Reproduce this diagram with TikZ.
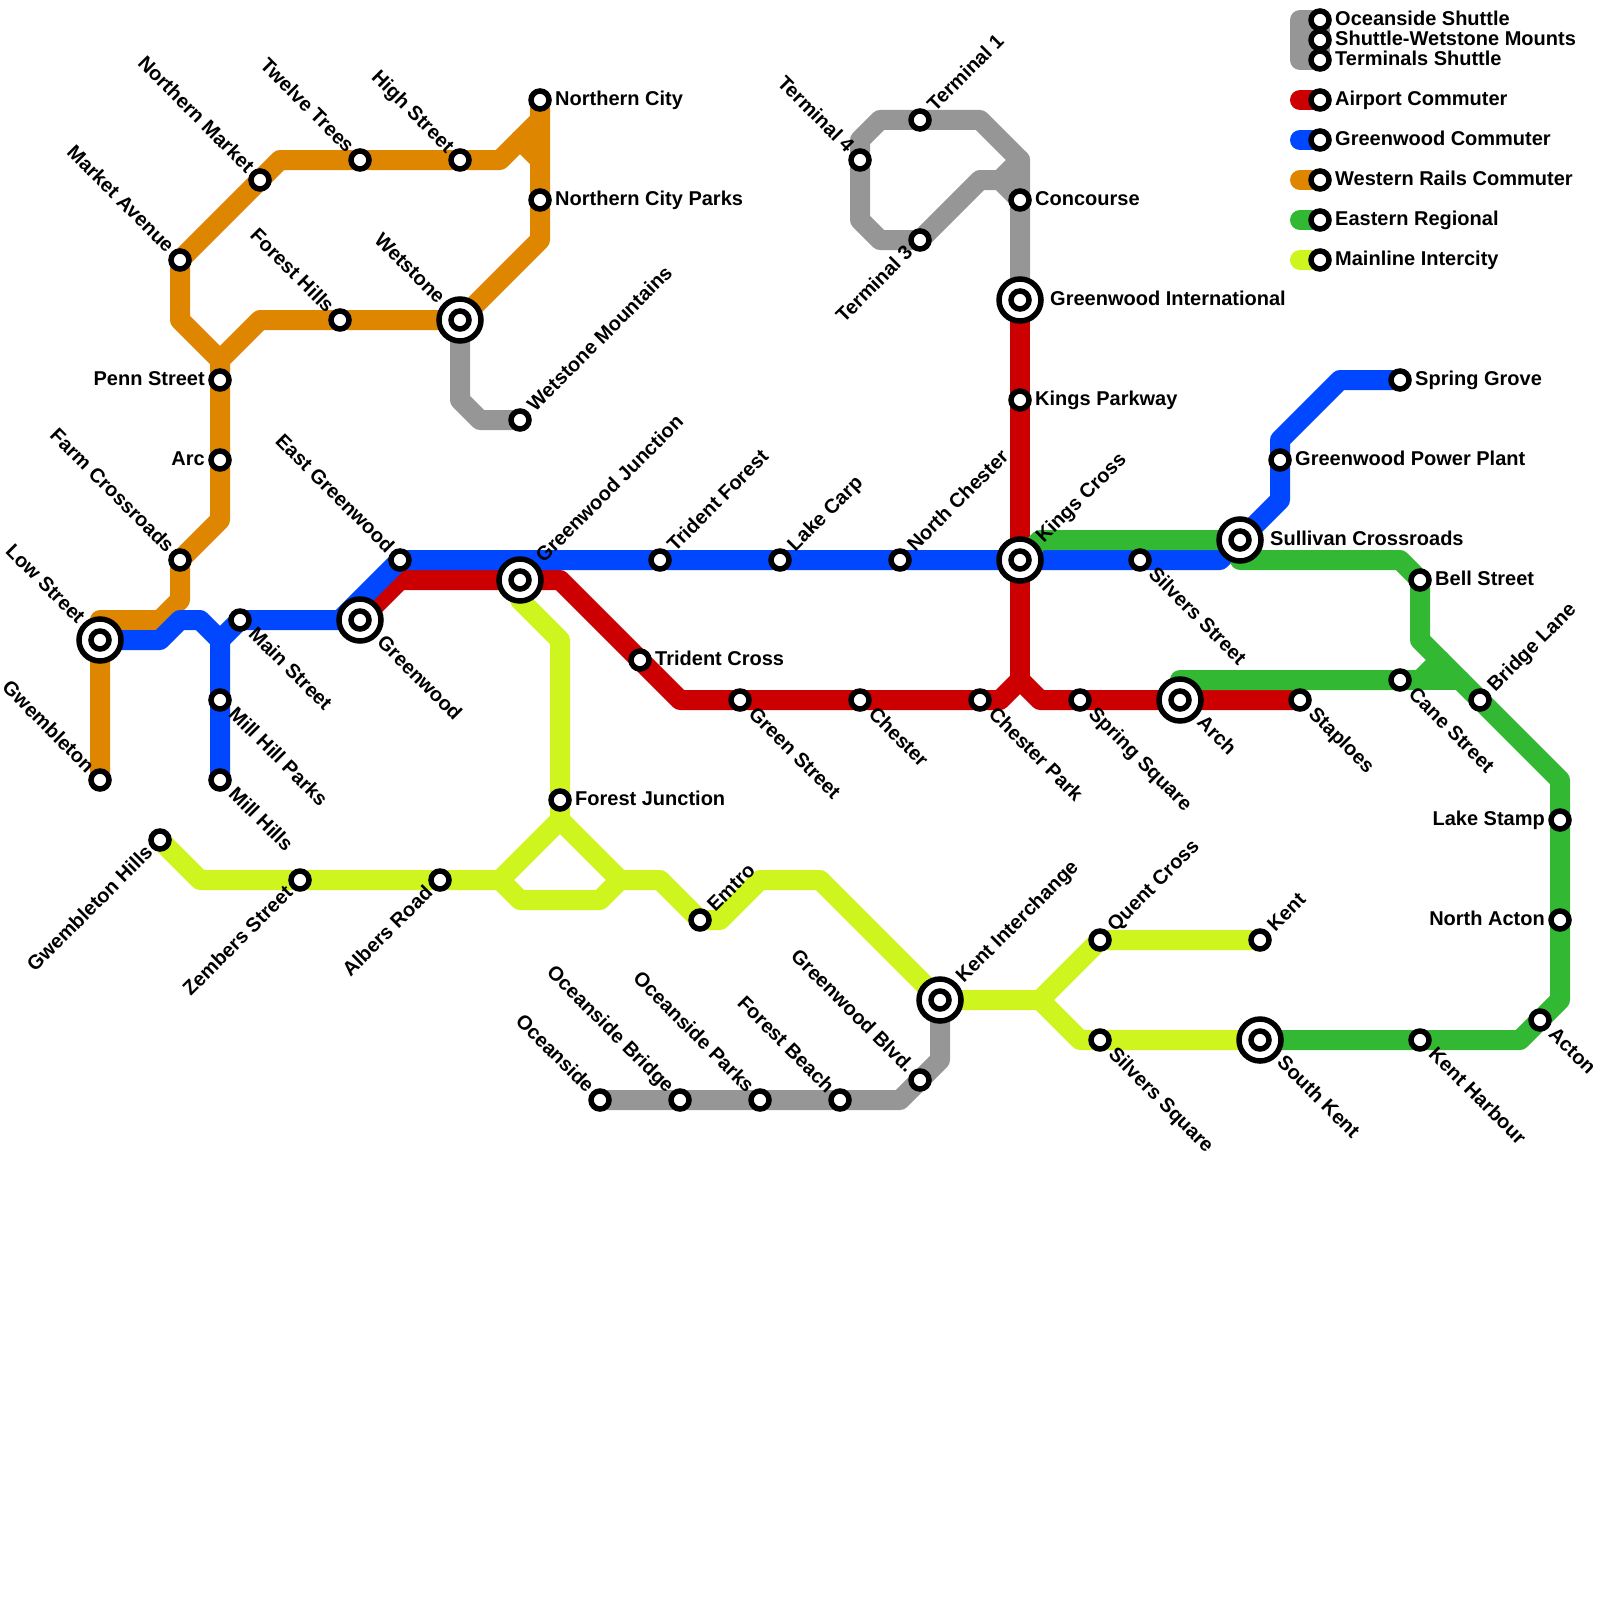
\documentclass[tikz,border=0pt]{standalone}
\usepackage{fontspec}
\setmainfont{Liberation Sans}
\usetikzlibrary{backgrounds}
\definecolor{railgrey}{RGB}{150,150,150}
\definecolor{railred}{RGB}{204,0,0}
\definecolor{railblue}{RGB}{0,71,255}
\definecolor{railorange}{RGB}{223,134,0}
\definecolor{railgreen}{RGB}{51,184,51}
\definecolor{raillime}{RGB}{207,245,30}

\begin{document}
\begin{tikzpicture}[
    x=20pt, y=-20pt,
    metro/.style={line width=20pt, line join=round, line cap=round},
    greyline/.style={metro, draw=railgrey},
    redline/.style={metro, draw=railred},
    blueline/.style={metro, draw=railblue},
    orangeline/.style={metro, draw=railorange},
    greenline/.style={metro, draw=railgreen},
    limeline/.style={metro, draw=raillime},
    stn/.style={circle, draw=black, fill=white, line width=5.5pt, minimum size=18pt, inner sep=0pt},
    hub/.style={circle, draw=black, fill=white, line width=5.5pt, minimum size=42pt, inner sep=0pt},
    lab/.style={font=\bfseries\fontsize{20}{20}\selectfont, text=black, inner ysep=0pt, inner xsep=15pt, text height=11pt, text depth=0pt},
    labe/.style={lab, anchor=west},
    labw/.style={lab, anchor=east},
    labne/.style={lab, anchor=west, rotate=45, inner xsep=16pt},
    labse/.style={lab, anchor=west, rotate=-45, inner xsep=16pt},
    labnw/.style={lab, anchor=east, rotate=-45, inner xsep=14pt},
    labsw/.style={lab, anchor=east, rotate=45, inner xsep=14pt},
    bige/.style={labe, inner xsep=30pt},
    bigne/.style={labne, inner xsep=28pt},
    bigse/.style={labse, inner xsep=28pt},
    bignw/.style={labnw, inner xsep=27pt}
]
\useasboundingbox (0,0) rectangle (80,80);

% Interchanges
\foreach \name/\x/\y/\s/\lbl in {
    lowstreet/5/32/bignw/Low Street,
    wetstone/23/16/bignw/Wetstone,
    greenwood/18/31/bigse/Greenwood,
    gwjunction/26/29/bigne/Greenwood Junction,
    kingscross/51/28/bigne/Kings Cross,
    gwinternational/51/15/bige/Greenwood International,
    sullivan/62/27/bige/Sullivan Crossroads,
    arch/59/35/bigse/Arch,
    kentinterchange/47/50/bigne/Kent Interchange,
    southkent/63/52/bigse/South Kent}
{
    \node[hub] (\name) at (\x,\y) {};
    \node[stn] (\name-in) at (\x,\y) {};
    \node[\s] (\name-lab) at (\x,\y) {\lbl};
}

% Stations
\foreach \name/\x/\y/\s/\lbl in {
    gwembleton/5/39/labnw/Gwembleton,
    farmcrossroads/9/28/labnw/Farm Crossroads,
    arc/11/23/labw/Arc,
    pennstreet/11/19/labw/Penn Street,
    marketavenue/9/13/labnw/Market Avenue,
    northernmarket/13/9/labnw/Northern Market,
    twelvetrees/18/8/labnw/Twelve Trees,
    highstreet/23/8/labnw/High Street,
    northerncity/27/5/labe/Northern City,
    northerncityparks/27/10/labe/Northern City Parks,
    foresthills/17/16/labnw/Forest Hills,
    eastgreenwood/20/28/labnw/East Greenwood,
    mainstreet/12/31/labse/Main Street,
    millhillparks/11/35/labse/Mill Hill Parks,
    millhills/11/39/labse/Mill Hills,
    silversstreet/57/28/labse/Silvers Street,
    tridentforest/33/28/labne/Trident Forest,
    lakecarp/39/28/labne/Lake Carp,
    northchester/45/28/labne/North Chester,
    powerplant/64/23/labe/Greenwood Power Plant,
    springgrove/70/19/labe/Spring Grove,
    tridentcross/32/33/labe/Trident Cross,
    kingsparkway/51/20/labe/Kings Parkway,
    greenstreet/37/35/labse/Green Street,
    chester/43/35/labse/Chester,
    chesterpark/49/35/labse/Chester Park,
    springsquare/54/35/labse/Spring Square,
    staploes/65/35/labse/Staploes,
    wetstonemountains/26/21/labne/Wetstone Mountains,
    terminalone/46/6/labne/Terminal 1,
    terminalfour/43/8/labnw/Terminal 4,
    terminalthree/46/12/labsw/Terminal 3,
    concourse/51/10/labe/Concourse,
    oceanside/30/55/labnw/Oceanside,
    oceansidebridge/34/55/labnw/Oceanside Bridge,
    oceansideparks/38/55/labnw/Oceanside Parks,
    forestbeach/42/55/labnw/Forest Beach,
    gwblvd/46/54/labnw/Greenwood Blvd.,
    bellstreet/71/29/labe/Bell Street,
    canestreet/70/34/labse/Cane Street,
    bridgelane/74/35/labne/Bridge Lane,
    lakestamp/78/41/labw/Lake Stamp,
    northacton/78/46/labw/North Acton,
    acton/77/51/labse/Acton,
    kentharbour/71/52/labse/Kent Harbour,
    gwhills/8/42/labsw/Gwembleton Hills,
    zembersstreet/15/44/labsw/Zembers Street,
    albersroad/22/44/labsw/Albers Road,
    forestjunction/28/40/labe/Forest Junction,
    emtro/35/46/labne/Emtro,
    quentcross/55/47/labne/Quent Cross,
    kent/63/47/labne/Kent,
    silverssquare/55/52/labse/Silvers Square}
{
    \node[stn] (\name) at (\x,\y) {};
    \node[\s] (\name-lab) at (\x,\y) {\lbl};
}

% Bends
\foreach \name/\x/\y in {
    o1/5/31, o2/8/31, o3/9/30, o4/11/26, o5/11/18, o6/9/16, o7/14/8, o8/25/8, o9/27/6,
    o10/26/7, o11/27/8, o12/27/12, o13/13/16,
    b1/8/32, b2/9/31, b3/10/31, b4/11/32, b5/17/31, b6/61/28, b7/64/25, b8/64/22, b9/67/19,
    r1/20/29, r2/28/29, r3/34/35, r4/50/35, r5/51/34, r6/52/35,
    g1/23/20, g2/24/21, g3/51/8, g4/49/6, g5/44/6, g6/43/7, g7/43/11, g8/44/12,
    g9/49/9, g10/50/9, g11/45/55, g12/47/53,
    e1/52/27, e2/62/28, e3/70/28, e4/71/32, e5/78/39, e6/78/50, e7/76/52,
    e8/59/34, e9/71/34, e10/72/33, e11/73/34,
    l1/10/44, l2/25/44, l3/28/41, l4/28/32, l5/26/30, l6/26/45, l7/30/45, l8/31/44,
    l9/33/44, l10/36/46, l11/38/44, l12/41/44, l13/52/50, l14/54/52}
    \coordinate (\name) at (\x,\y);

% Legend
\foreach \name/\y/\lbl in {
    keya/1/Oceanside Shuttle,
    keyb/2/Shuttle-Wetstone Mounts,
    keyc/3/Terminals Shuttle,
    keyd/5/Airport Commuter,
    keye/7/Greenwood Commuter,
    keyf/9/Western Rails Commuter,
    keyg/11/Eastern Regional,
    keyh/13/Mainline Intercity}
{
    \coordinate (\name-end) at (65,\y);
    \node[stn] (\name) at (66,\y) {};
    \node[labe] (\name-lab) at (66,\y) {\lbl};
}

\begin{scope}[on background layer]
% Grey lines
\draw[greyline, fill=railgrey] (keya-end) -- (keya.center) -- (keyc.center) -- (keyc-end) -- cycle;
\draw[greyline] (wetstone.center) -- (g1) -- (g2) -- (wetstonemountains.center);
\draw[greyline] (gwinternational.center) -- (g3) -- (g4) -- (g5) -- (g6) -- (g7) -- (g8) -- (terminalthree.center) -- (g9) -- (g10) -- (concourse.center);
\draw[greyline] (g10) -- (g3);
\draw[greyline] (oceanside.center) -- (g11) -- (g12) -- (kentinterchange.center);

% Red line
\draw[redline] (keyd-end) -- (keyd.center);
\draw[redline] (greenwood.center) -- (r1) -- (r2) -- (r3) -- (r4) -- (r5) -- (r6) -- (staploes.center);
\draw[redline] (r5) -- (gwinternational.center);

% Orange line
\draw[orangeline] (keyf-end) -- (keyf.center);
\draw[orangeline] (gwembleton.center) -- (o1) -- (o2) -- (o3) -- (farmcrossroads.center) -- (o4) -- (o5) -- (o6) -- (marketavenue.center) -- (o7) -- (o8) -- (o9) -- (northerncity.center) -- (o12) -- (wetstone.center) -- (o13) -- (o5);
\draw[orangeline] (o10) -- (o11);

% Blue line
\draw[blueline] (keye-end) -- (keye.center);
\draw[blueline] (lowstreet.center) -- (b1) -- (b2) -- (b3) -- (b4) -- (millhills.center);
\draw[blueline] (b4) -- (mainstreet.center) -- (b5) -- (eastgreenwood.center) -- (b6) -- (b7) -- (b8) -- (b9) -- (springgrove.center);

% Green line
\draw[greenline] (keyg-end) -- (keyg.center);
\draw[greenline] (kingscross.center) -- (e1) -- (sullivan.center) -- (e2) -- (e3) -- (bellstreet.center) -- (e4) -- (e5) -- (e6) -- (e7) -- (southkent.center);
\draw[greenline] (arch.center) -- (e8) -- (e9) -- (e10);
\draw[greenline] (e9) -- (e11);

% Lime line
\draw[limeline] (keyh-end) -- (keyh.center);
\draw[limeline] (gwhills.center) -- (l1) -- (l2) -- (l3) -- (l4) -- (l5) -- (gwjunction.center);
\draw[limeline] (l2) -- (l6) -- (l7) -- (l8) -- (l9) -- (emtro.center) -- (l10) -- (l11) -- (l12) -- (kentinterchange.center) -- (l13) -- (quentcross.center) -- (kent.center);
\draw[limeline] (l13) -- (l14) -- (southkent.center);
\draw[limeline] (l3) -- (l8);
\end{scope}

\end{tikzpicture}
\end{document}
